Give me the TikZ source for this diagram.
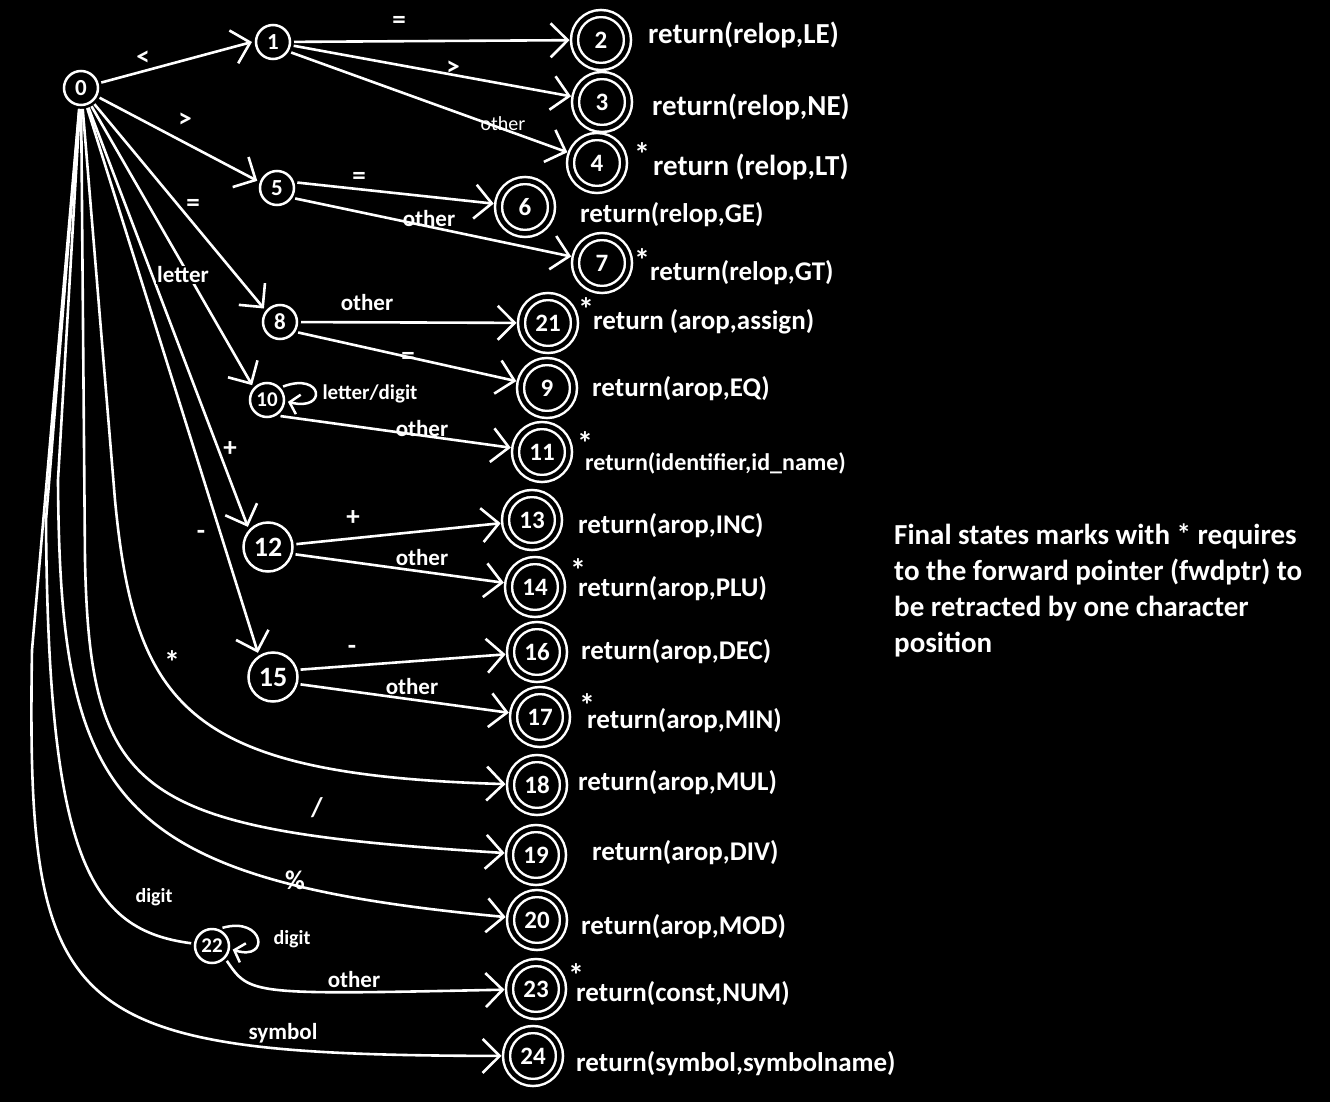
\documentclass[tikz,border=0pt]{standalone}
\usepackage{fontspec}
\setmainfont{Carlito}
\usetikzlibrary{arrows.meta}

\begin{document}
\begin{tikzpicture}[x=1pt, y=-1pt,
		state/.style={circle, draw=white, line width=2.5pt, minimum size=34pt, inner sep=0pt, outer sep=4pt, text=white, font=\fontsize{23}{23}\selectfont\bfseries},
		bigstate/.style={state, minimum size=49pt, font=\fontsize{28}{28}\selectfont\bfseries},
		final/.style={circle, draw=white, double=black, double distance=4.5pt, line width=2.5pt, minimum size=53pt, inner sep=0pt, outer sep=5pt, text=white, font=\fontsize{25}{25}\selectfont\bfseries},
		edge/.style={draw=white, line width=2.6pt, -{Straight Barb[length=17pt,width=34pt]}},
		plainedge/.style={draw=white, line width=2.6pt},
		loopedge/.style={draw=white, line width=2.5pt, -{Straight Barb[length=9pt,width=20pt]}},
		lbl/.style={text=white, inner sep=1pt, font=\fontsize{23}{23}\selectfont\bfseries},
		sym/.style={text=white, inner sep=1pt, font=\fontsize{27}{27}\selectfont\bfseries},
		act/.style={text=white, anchor=west, inner sep=0pt, font=\fontsize{27}{27}\selectfont\bfseries},
		retract/.style={text=white, inner sep=0pt, font=\fontsize{32}{32}\selectfont\bfseries}]
	\useasboundingbox (0,0) rectangle (1330,1102);
	\fill[black] (0,0) rectangle (1330,1102);
	
	% States
	\node[state] (n0) at (81,88) {0};
	\node[state] (n1) at (273,42) {1};
	\node[state] (n5) at (277,188) {5};
	\node[state] (n8) at (280,322) {8};
	\node[state, font=\fontsize{21}{21}\selectfont\bfseries] (n10) at (267,400) {10};
	\node[bigstate] (n12) at (268,547) {12};
	\node[bigstate] (n15) at (273,677) {15};
	\node[state, font=\fontsize{21}{21}\selectfont\bfseries] (n22) at (212,946) {22};
	
	% Final states
	\node[final] (n2) at (601,40) {2};
	\node[final] (n3) at (602,102) {3};
	\node[final] (n4) at (597,163) {4};
	\node[final] (n6) at (525,207) {6};
	\node[final] (n7) at (602,263) {7};
	\node[final] (n21) at (548,323) {21};
	\node[final] (n9) at (547,388) {9};
	\node[final] (n11) at (542,452) {11};
	\node[final] (n13) at (532,520) {13};
	\node[final] (n14) at (535,587) {14};
	\node[final] (n16) at (537,652) {16};
	\node[final] (n17) at (540,717) {17};
	\node[final] (n18) at (537,785) {18};
	\node[final] (n19) at (536,855) {19};
	\node[final] (n20) at (537,920) {20};
	\node[final] (n23) at (536,989) {23};
	\node[final] (n24) at (533,1056) {24};
	
	% Transitions out of 0
	\draw[edge] (n0) -- (n1.west);
	\draw[edge] (n0) -- (n5.160);
	\draw[edge] (n0) -- (n8.140);
	\draw[edge] (n0) -- (n10.135);
	\draw[edge] (n0) -- (n12.135);
	\draw[edge] (n0) -- (n15.122);
	\draw[edge] (n0) -- (115,500) .. controls (135,710) and (190,775) .. (n18);
	\draw[edge] (n0) -- (85,560) .. controls (90,800) and (140,830) .. (n19);
	\draw[edge] (n0) -- (58,480) .. controls (60,800) and (110,880) .. (n20);
	\draw[plainedge] (n0) -- (46,520) .. controls (48,860) and (90,930) .. (n22);
	\draw[edge] (n0) -- (32,650) .. controls (26,1020) and (60,1055) .. (n24);
	
	% Other transitions
	\draw[edge] (n1) -- (n2);
	\draw[edge] (n1) -- (n3);
	\draw[edge] (n1.-30) -- (n4);
	\draw[edge] (n5.15) -- (n6);
	\draw[edge] (n5.-30) -- (n7);
	\draw[edge] (n8) -- (n21);
	\draw[edge] (n8.-30) -- (n9);
	\draw[edge] (n10.-50) -- (n11);
	\draw[edge] (n12) -- (n13);
	\draw[edge] (n12.-15) -- (n14);
	\draw[edge] (n15.15) -- (n16);
	\draw[edge] (n15.-15) -- (n17);
	\draw[edge] (n22.-45) .. controls (250,995) .. (n23);
	\draw[loopedge] (n10.40) .. controls +(40,-15) and +(40,10) .. (n10.-5);
	\draw[loopedge] (n22.60) .. controls +(42,-12) and +(38,12) .. (n22.-10);
	
	% Edge labels
	\node[sym] (l01) at (143,58) {<};
	\node[sym] (l05) at (185,120) {>};
	\node[sym] (l08) at (193,205) {=};
	\node[lbl, fill=black] (l010) at (183,275) {letter};
	\node[sym] (l012) at (230,449) {+};
	\node[sym] (l015) at (201,535) {-};
	\node[sym, font=\fontsize{32}{32}\selectfont\bfseries] (l018) at (172,662) {*};
	\node[sym] (l019) at (317,808) {/};
	\node[sym] (l020) at (295,880) {\%};
	\node[lbl, font=\fontsize{20}{20}\selectfont\bfseries] (l022) at (154,897) {digit};
	\node[lbl] (l024) at (283,1033) {symbol};
	\node[sym] (l12) at (399,22) {=};
	\node[sym] (l13) at (453,68) {>};
	\node[lbl, font=\fontsize{20}{20}\selectfont] (l14) at (503,124) {other};
	\node[sym] (l56) at (359,178) {=};
	\node[lbl] (l57) at (429,219) {other};
	\node[lbl] (l821) at (367,303) {other};
	\node[sym] (l89) at (408,358) {=};
	\node[lbl, font=\fontsize{21}{21}\selectfont\bfseries] (l1010) at (370,394) {letter/digit};
	\node[lbl] (l1011) at (422,429) {other};
	\node[sym] (l1213) at (353,518) {+};
	\node[lbl] (l1214) at (422,558) {other};
	\node[sym] (l1516) at (352,650) {-};
	\node[lbl] (l1517) at (412,687) {other};
	\node[lbl, font=\fontsize{20}{20}\selectfont\bfseries] (l2222) at (292,939) {digit};
	\node[lbl] (l2223) at (354,980) {other};
	
	% Retract marks
	\node[retract] (s4) at (642,154) {*};
	\node[retract] (s7) at (642,260) {*};
	\node[retract] (s21) at (586,309) {*};
	\node[retract] (s11) at (585,443) {*};
	\node[retract] (s14) at (578,570) {*};
	\node[retract] (s17) at (587,705) {*};
	\node[retract] (s23) at (576,975) {*};
	
	% Actions
	\node[act, font=\fontsize{29}{29}\selectfont\bfseries] (aLE) at (648,35) {return(relop,LE)};
	\node[act, font=\fontsize{29}{29}\selectfont\bfseries] (aNE) at (652,107) {return(relop,NE)};
	\node[act, font=\fontsize{29}{29}\selectfont\bfseries] (aLT) at (653,167) {return (relop,LT)};
	\node[act] (aGE) at (580,215) {return(relop,GE)};
	\node[act] (aGT) at (650,273) {return(relop,GT)};
	\node[act] (aAS) at (593,322) {return (arop,assign)};
	\node[act] (aEQ) at (592,389) {return(arop,EQ)};
	\node[act, font=\fontsize{24}{24}\selectfont\bfseries] (aID) at (585,463) {return(identifier,id\_name)};
	\node[act] (aINC) at (578,526) {return(arop,INC)};
	\node[act] (aPLU) at (578,589) {return(arop,PLU)};
	\node[act] (aDEC) at (581,652) {return(arop,DEC)};
	\node[act] (aMIN) at (587,721) {return(arop,MIN)};
	\node[act] (aMUL) at (578,783) {return(arop,MUL)};
	\node[act] (aDIV) at (592,853) {return(arop,DIV)};
	\node[act] (aMOD) at (581,927) {return(arop,MOD)};
	\node[act] (aNUM) at (576,994) {return(const,NUM)};
	\node[act] (aSYM) at (576,1064) {return(symbol,symbolname)};
	
	% Note
	\node[text=white, anchor=north west, align=left, inner sep=0pt, font=\fontsize{29}{36}\selectfont\bfseries] (note) at (894,524)
	{Final states marks with * requires\\to the forward pointer (fwdptr) to\\be retracted by one character\\position};
\end{tikzpicture}
\end{document}
